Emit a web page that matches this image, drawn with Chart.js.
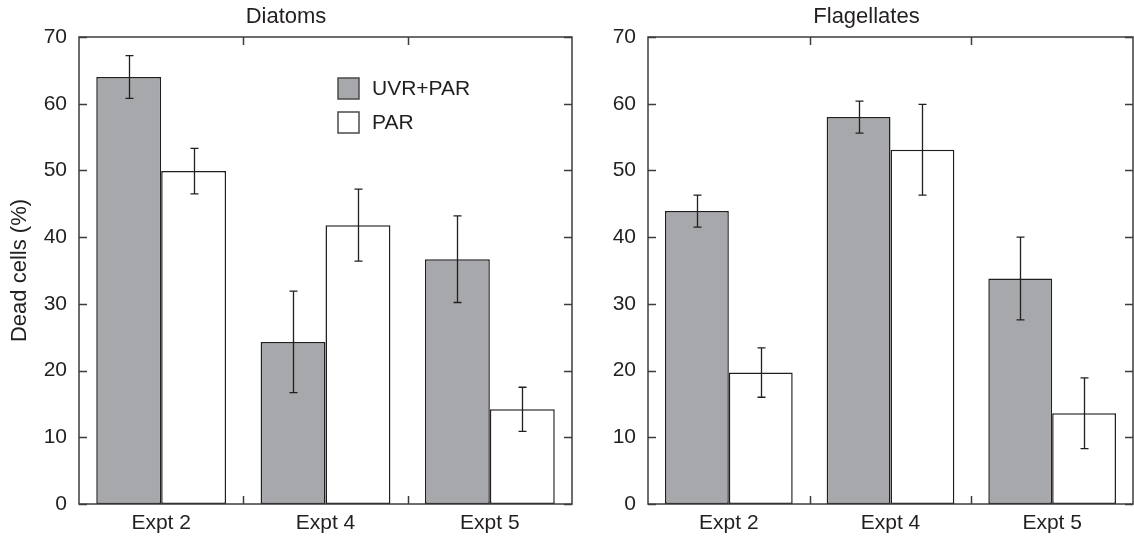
<!DOCTYPE html>
<html>
<head>
<meta charset="utf-8">
<script src="https://cdn.jsdelivr.net/npm/chart.js@4.4.1/dist/chart.umd.min.js"></script>
<style>
  html, body { margin: 0; padding: 0; background: #fff; }
  #wrap { position: relative; width: 1134px; height: 538px; overflow: hidden; }
  #c1 { position: absolute; left: 0; top: 0; }
  #c2 { position: absolute; left: 600px; top: 0; }
</style>
</head>
<body>
<div id="wrap">
  <canvas id="c1" width="600" height="538"></canvas>
  <canvas id="c2" width="534" height="538"></canvas>
</div>
<script>
// ---- Data ----
const categories = ['Expt 2', 'Expt 4', 'Expt 5'];
const seriesNames = ['UVR+PAR', 'PAR'];
const panelTitles = ['Diatoms', 'Flagellates'];
const yAxisTitle = 'Dead cells (%)';
const yMin = 0, yMax = 70, yStep = 10;

const diatomsUVR    = [64.0, 24.3, 36.7];
const diatomsUVRErr = [3.2, 7.6, 6.5];
const diatomsPAR    = [49.9, 41.8, 14.2];
const diatomsPARErr = [3.4, 5.4, 3.3];

const flagUVR    = [43.9, 58.0, 33.8];
const flagUVRErr = [2.4, 2.4, 6.2];
const flagPAR    = [19.7, 53.1, 13.6];
const flagPARErr = [3.7, 6.8, 5.3];

// ---- Styles ----
const FONT = "'Liberation Sans', Arial, Helvetica, sans-serif";
const INK = '#231f20';
const FRAME = '#3c3c3c';
const GRAY = '#a7a8ab';

const framePlugin = {
  id: 'frame',
  afterDraw(chart) {
    const {ctx, chartArea: a, scales} = chart;
    ctx.save();
    ctx.strokeStyle = FRAME;
    ctx.lineWidth = 1.5;
    ctx.strokeRect(a.left, a.top, a.right - a.left, a.bottom - a.top);
    const ys = scales.y;
    ctx.beginPath();
    ys.ticks.forEach(t => {
      const py = Math.round(ys.getPixelForValue(t.value)) + 0.5;
      ctx.moveTo(a.left, py); ctx.lineTo(a.left + 8, py);
      ctx.moveTo(a.right, py); ctx.lineTo(a.right - 8, py);
    });
    const xs = scales.x;
    for (let i = 0; i < categories.length - 1; i++) {
      const px = Math.round((xs.getPixelForValue(i) + xs.getPixelForValue(i + 1)) / 2) + 0.5;
      ctx.moveTo(px, a.bottom); ctx.lineTo(px, a.bottom - 8);
      ctx.moveTo(px, a.top); ctx.lineTo(px, a.top + 8);
    }
    ctx.stroke();
    ctx.restore();
  }
};

const errorPlugin = {
  id: 'errbars',
  afterDatasetsDraw(chart) {
    const {ctx, scales} = chart;
    ctx.save();
    ctx.strokeStyle = INK;
    ctx.lineWidth = 1.3;
    chart.data.datasets.forEach((ds, di) => {
      const meta = chart.getDatasetMeta(di);
      meta.data.forEach((bar, i) => {
        const v = ds.data[i], e = ds.errors[i];
        const x = Math.round(bar.x) + 0.5;
        const yt = scales.y.getPixelForValue(v + e);
        const yb = scales.y.getPixelForValue(v - e);
        ctx.beginPath();
        ctx.moveTo(x, yt); ctx.lineTo(x, yb);
        ctx.moveTo(x - 4, yt); ctx.lineTo(x + 4, yt);
        ctx.moveTo(x - 4, yb); ctx.lineTo(x + 4, yb);
        ctx.stroke();
      });
    });
    ctx.restore();
  }
};

const legendPlugin = {
  id: 'insideLegend',
  afterDraw(chart) {
    const {ctx, chartArea: a} = chart;
    ctx.save();
    ctx.font = '21px ' + FONT;
    ctx.textBaseline = 'middle';
    ctx.textAlign = 'left';
    chart.data.datasets.forEach((ds, i) => {
      const x = a.left + 259, y = a.top + 41 + i * 34;
      ctx.fillStyle = ds.backgroundColor;
      ctx.fillRect(x, y, 21, 21);
      ctx.strokeStyle = '#4a4a4a';
      ctx.lineWidth = 1.5;
      ctx.strokeRect(x, y, 21, 21);
      ctx.fillStyle = INK;
      ctx.fillText(ds.label, x + 34, y + 11);
    });
    ctx.restore();
  }
};

function makeChart(canvasId, title, uvr, uvrErr, par, parErr, opts) {
  const datasets = [
    { label: seriesNames[0], data: uvr, errors: uvrErr, backgroundColor: GRAY, borderColor: INK, borderWidth: 1.5, borderSkipped: false },
    { label: seriesNames[1], data: par, errors: parErr, backgroundColor: '#ffffff', borderColor: INK, borderWidth: 1.5, borderSkipped: false }
  ];
  const plugins = [framePlugin, errorPlugin];
  if (opts.legend) plugins.push(legendPlugin);
  return new Chart(document.getElementById(canvasId), {
    type: 'bar',
    data: { labels: categories, datasets },
    plugins,
    options: {
      responsive: false,
      animation: false,
      layout: { padding: { right: opts.padRight, top: 0, bottom: 0, left: 0 } },
      datasets: { bar: { categoryPercentage: 0.79, barPercentage: 1.0 } },
      plugins: {
        legend: { display: false },
        tooltip: { enabled: false },
        title: {
          display: true, text: title, color: INK,
          font: { family: FONT, size: 22, weight: 'normal', lineHeight: 1.2 },
          padding: { top: 4, bottom: 6.6 }
        }
      },
      scales: {
        x: {
          grid: { display: false, drawTicks: false },
          border: { display: false },
          ticks: { color: INK, font: { family: FONT, size: 21 }, padding: 7, maxRotation: 0 },
          afterFit(s) { s.height = 34; }
        },
        y: {
          min: yMin, max: yMax,
          grid: { display: false, drawTicks: false },
          border: { display: false },
          ticks: { stepSize: yStep, color: INK, font: { family: FONT, size: 21 }, padding: 12 },
          title: {
            display: !!opts.yTitle, text: yAxisTitle, color: INK,
            font: { family: FONT, size: 22, lineHeight: 1.2 }, padding: { top: 7, bottom: 0 }
          },
          afterFit(s) { s.width = opts.yWidth; }
        }
      }
    }
  });
}

makeChart('c1', panelTitles[0], diatomsUVR, diatomsUVRErr, diatomsPAR, diatomsPARErr,
  { legend: true, yTitle: true, padRight: 28, yWidth: 79 });
makeChart('c2', panelTitles[1], flagUVR, flagUVRErr, flagPAR, flagPARErr,
  { legend: false, yTitle: false, padRight: 1, yWidth: 48 });
</script>
</body>
</html>
